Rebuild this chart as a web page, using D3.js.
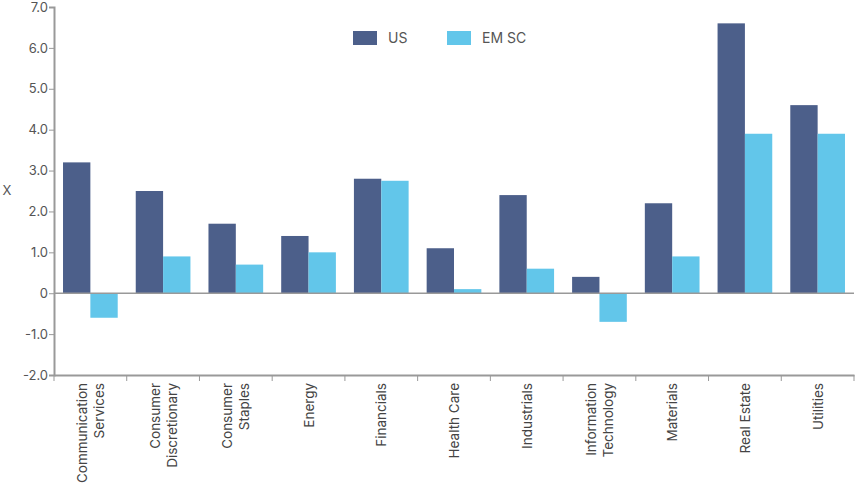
<!DOCTYPE html>
<html><head><meta charset="utf-8">
<script src="https://cdn.jsdelivr.net/npm/d3@7"></script>
<style>body{margin:0;background:#fff}text{font-family:Inter,"Noto Sans",sans-serif}</style>
</head><body><svg id="c" width="855" height="502"></svg>
<script>
const categories=[["Communication","Services"],["Consumer","Discretionary"],["Consumer","Staples"],["Energy"],["Financials"],["Health Care"],["Industrials"],["Information","Technology"],["Materials"],["Real Estate"],["Utilities"]];
const seriesNames=["US","EM SC"];
const usValues=[3.2,2.5,1.7,1.4,2.8,1.1,2.4,0.4,2.2,6.6,4.6];
const emValues=[-0.6,0.9,0.7,1.0,2.75,0.1,0.6,-0.7,0.9,3.9,3.9];
const yTicks=[-2,-1,0,1,2,3,4,5,6,7];
const colors=["#4c5f8a","#62c6ea"];
const svg=d3.select("#c");
const L=54,R=854,T=7,B=375;
const keys=categories.map((c,i)=>i);
const x=d3.scaleBand().domain(keys).range([L,R]);
const bw=x.bandwidth();
const x1=d3.scaleBand().domain(seriesNames).range([bw*0.124,bw*0.876]);
const y=d3.scaleLinear().domain([-2,7]).range([B,T]);
const data=[usValues,emValues];
seriesNames.forEach((s,si)=>{
 svg.append("g").selectAll("rect").data(data[si]).join("rect")
  .attr("x",(d,i)=>x(i)+x1(s)).attr("width",x1.bandwidth())
  .attr("y",d=>y(Math.max(0,d))).attr("height",d=>Math.abs(y(d)-y(0)))
  .attr("fill",colors[si]);
});
// zero line
svg.append("line").attr("x1",L).attr("x2",R).attr("y1",y(0)).attr("y2",y(0)).attr("stroke","#999").attr("stroke-width",1.5);
const ya=svg.append("g").attr("transform",`translate(${L},0)`).call(d3.axisLeft(y).tickValues(yTicks).tickSize(5).tickFormat(d=>d===0?"0":d.toFixed(1)));
ya.select(".domain").attr("stroke","#999").attr("stroke-width",2);
ya.selectAll(".tick line").attr("stroke","#999");
ya.selectAll("text").attr("fill","#555").attr("font-size",13).attr("dx",2);
const xa=svg.append("g").attr("transform",`translate(0,${B})`).call(d3.axisBottom(x).tickSize(0).tickFormat(""));
xa.select(".domain").attr("stroke","#999").attr("stroke-width",2);
svg.append("g").selectAll("line").data(d3.range(keys.length+1)).join("line")
 .attr("x1",i=>L+i*x.step()).attr("x2",i=>L+i*x.step()).attr("y1",B).attr("y2",B+6).attr("stroke","#999");
categories.forEach((c,i)=>{
 const cx=x(i)+bw/2;
 const t=svg.append("text").attr("transform",`translate(${cx},${B+8}) rotate(-90)`).attr("text-anchor","end").attr("fill","#444").attr("font-size",13.5);
 const n=c.length;
 c.forEach((line,j)=>t.append("tspan").attr("x",0).attr("y",(j-(n-1)/2)*17+5).text(line));
});
svg.append("text").attr("x",7).attr("y",195).attr("text-anchor","middle").attr("fill","#555").attr("font-size",13).text("X");
const lg=[[353,"US"],[447,"EM SC"]];
lg.forEach((l,i)=>{
 svg.append("rect").attr("x",l[0]).attr("y",31).attr("width",24).attr("height",14).attr("fill",colors[i]);
 svg.append("text").attr("x",l[0]+35).attr("y",43).attr("fill","#555").attr("font-size",14).text(l[1]);
});
</script></body></html>
